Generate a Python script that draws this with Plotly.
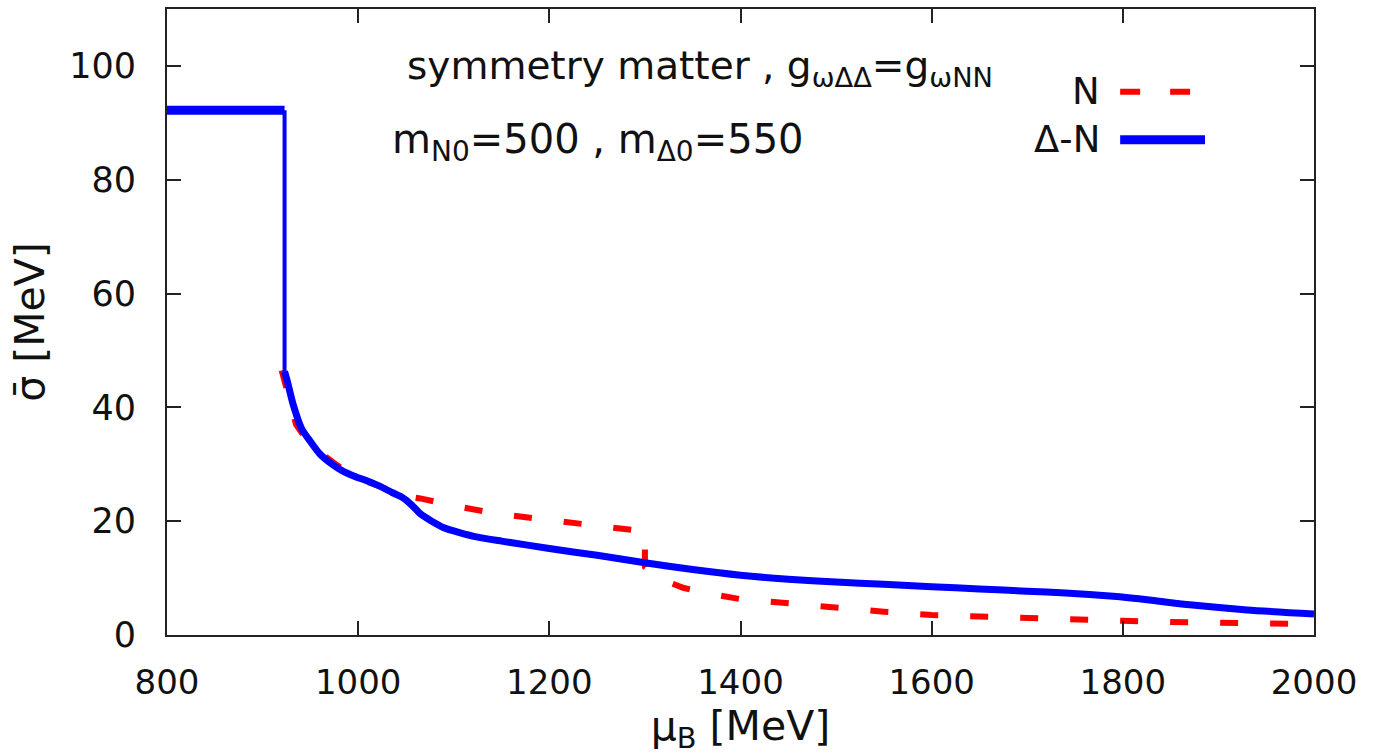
import plotly.graph_objects as go

# ---- data ----
mu_N = [920, 925, 935, 945, 960, 975, 990, 1005, 1020, 1035, 1050, 1065, 1100, 1150,
        1200, 1250, 1300, 1300, 1310, 1320, 1340, 1360, 1400, 1450, 1500, 1550, 1600,
        1650, 1700, 1750, 1800, 1850, 1900, 1950, 2000]
sigma_N = [46.5, 43.0, 37.0, 34.5, 32.1, 30.2, 28.5, 27.2, 26.2, 25.3, 24.4, 24.0, 22.7, 21.2,
           20.2, 19.2, 18.2, 12.0, 10.8, 9.6, 8.3, 7.5, 6.3, 5.5, 4.8, 4.1, 3.5,
           3.2, 3.0, 2.7, 2.5, 2.3, 2.1, 2.0, 1.9]

mu_DN = [800, 923, 923, 926, 932, 941, 950, 960, 972, 984, 996, 1009, 1022, 1036, 1045, 1051,
         1058, 1065, 1077, 1089, 1106, 1125, 1150, 1200, 1250, 1300, 1350, 1400, 1450, 1500,
         1550, 1600, 1650, 1700, 1740, 1790, 1830, 1870, 1930, 2000]
sigma_DN = [92.2, 92.2, 46.3, 44.5, 40.5, 36.2, 34.0, 31.8, 30.1, 28.8, 27.9, 27.1, 26.2, 25.0, 24.3, 23.6,
            22.5, 21.3, 20.0, 18.9, 18.0, 17.2, 16.5, 15.2, 14.0, 12.7, 11.5, 10.5, 9.8, 9.3,
            8.9, 8.5, 8.1, 7.7, 7.4, 6.8, 6.1, 5.3, 4.4, 3.7]

x_ticks = [800, 1000, 1200, 1400, 1600, 1800, 2000]
y_ticks = [0, 20, 40, 60, 80, 100]

BLUE = "#0000ff"
RED = "#ff0000"
FONT = "DejaVu Sans"

fig = go.Figure()

# N (red dashed)
fig.add_trace(go.Scatter(x=mu_N, y=sigma_N, mode="lines",
                         line=dict(color=RED, width=6, dash="18px,32px"),
                         showlegend=False, name="N"))
# Delta-N (blue): horizontal plateau, thin vertical jump, curve
fig.add_trace(go.Scatter(x=mu_DN[0:2], y=sigma_DN[0:2], mode="lines",
                         line=dict(color=BLUE, width=9), showlegend=False))
fig.add_trace(go.Scatter(x=mu_DN[1:3], y=sigma_DN[1:3], mode="lines",
                         line=dict(color=BLUE, width=4), showlegend=False))
fig.add_trace(go.Scatter(x=mu_DN[2:], y=sigma_DN[2:], mode="lines",
                         line=dict(color=BLUE, width=7, shape="spline", smoothing=0.6),
                         showlegend=False, name="Δ-N"))

axis_common = dict(showline=True, linecolor="#222", linewidth=2, mirror="ticks",
                   ticks="inside", ticklen=14, tickwidth=2, tickcolor="#222",
                   showgrid=False, zeroline=False)

fig.update_xaxes(range=[800, 2000], tickvals=x_ticks, ticktext=[str(v) for v in x_ticks],
                 tickfont=dict(family=FONT, size=34, color="#111"),
                 ticklabelstandoff=16,
                 title=dict(text="μ<sub>B</sub> [MeV]", font=dict(family=FONT, size=41, color="#111"),
                            standoff=8),
                 **axis_common)
fig.update_yaxes(range=[0, 110], tickvals=y_ticks, ticktext=[str(v) for v in y_ticks],
                 tickfont=dict(family=FONT, size=35, color="#111"),
                 ticklabelstandoff=22,
                 title=dict(text="σ̄ [MeV]", font=dict(family=FONT, size=41, color="#111"),
                            standoff=12),
                 **axis_common)

# text annotations
fig.add_annotation(xref="paper", yref="paper", x=0.2075, y=0.906, xanchor="left", yanchor="middle",
                   text="symmetry matter , g<sub>ωΔΔ</sub>=g<sub>ωNN</sub>", showarrow=False,
                   font=dict(family=FONT, size=39, color="#111"))
fig.add_annotation(xref="paper", yref="paper", x=0.194, y=0.788, xanchor="left", yanchor="middle",
                   text="m<sub>N0</sub>=500 , m<sub>Δ0</sub>=550", showarrow=False,
                   font=dict(family=FONT, size=40, color="#111"))

# legend (gnuplot style: text on the left, sample on the right)
fig.add_annotation(xref="paper", yref="paper", x=0.815, y=0.868, xanchor="right", yanchor="middle",
                   text="N", showarrow=False, font=dict(family=FONT, size=37, color="#111"))
fig.add_annotation(xref="paper", yref="paper", x=0.815, y=0.791, xanchor="right", yanchor="middle",
                   text="Δ-N", showarrow=False, font=dict(family=FONT, size=37, color="#111"))
fig.add_shape(type="line", xref="paper", yref="paper", x0=0.831, x1=0.892, y0=0.868, y1=0.868,
              line=dict(color=RED, width=6, dash="20px,30px"))
fig.add_shape(type="line", xref="paper", yref="paper", x0=0.831, x1=0.905, y0=0.791, y1=0.791,
              line=dict(color=BLUE, width=9))

fig.update_layout(width=1377, height=756, paper_bgcolor="white", plot_bgcolor="white",
                  margin=dict(l=167, r=63, t=7, b=121),
                  font=dict(family=FONT, color="#111"))

fig.write_html("out.html")
